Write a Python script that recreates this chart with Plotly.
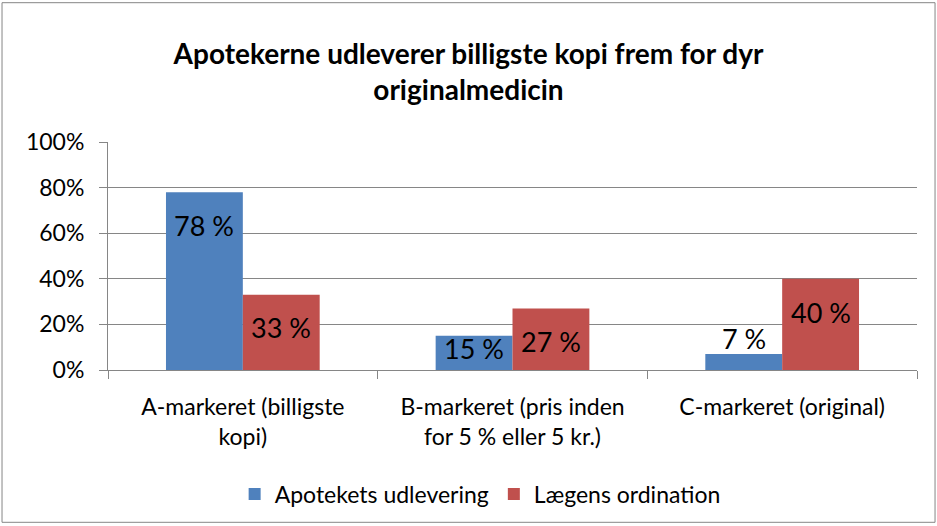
import plotly.graph_objects as go

categories = ["A-markeret (billigste<br>kopi)", "B-markeret (pris inden<br>for 5 % eller 5 kr.)", "C-markeret (original)"]
series_names = ["Apotekets udlevering", "Lægens ordination"]
apotek = [78, 15, 7]
laege = [33, 27, 40]
y_ticks = [0, 20, 40, 60, 80, 100]
y_tick_labels = ["0%", "20%", "40%", "60%", "80%", "100%"]
colors = ["#4F81BD", "#C0504D"]

FONT = "Lato"

fig = go.Figure()
for name, vals, col in zip(series_names, [apotek, laege], colors):
    fig.add_trace(go.Bar(x=categories, y=vals, name=name, marker_color=col,
                         marker_line_width=0))

# data labels
label_shift = {78: -33, 15: -13, 7: 16, 33: -33, 27: -33, 40: -34}
for vals, xs in [(apotek, -38.5), (laege, 38.5)]:
    for c, v in zip(categories, vals):
        fig.add_annotation(x=c, y=v, text=f"{v} %", showarrow=False,
                           xshift=xs, yshift=label_shift.get(v, -33),
                           font=dict(family=FONT, size=27, color="black"))

fig.update_layout(
    width=937, height=526,
    margin=dict(l=108, r=20, t=142, b=155),
    paper_bgcolor="white", plot_bgcolor="white",
    barmode="group", bargap=0.43, bargroupgap=0,
    title=dict(text="<b>Apotekerne udleverer billigste kopi frem for dyr<br>originalmedicin</b>",
               x=0.5, xanchor="center", y=0.879, yanchor="middle",
               font=dict(family=FONT, size=28, color="black")),
    font=dict(family=FONT, color="black"),
    legend=dict(orientation="h", x=0.46, xanchor="center", y=-0.537, yanchor="middle",
                font=dict(family=FONT, size=23, color="black"), itemwidth=30),
    showlegend=True,
)
fig.update_yaxes(range=[0, 100], tickvals=y_ticks, ticktext=y_tick_labels,
                 showgrid=True, gridcolor="#868686", gridwidth=1,
                 showline=True, linecolor="#868686", linewidth=1,
                 ticks="outside", ticklen=8, tickcolor="#868686", ticklabelstandoff=10,
                 tickfont=dict(family=FONT, size=23, color="black"), zeroline=False)
fig.update_xaxes(showline=True, linecolor="#868686", linewidth=1,
                 ticks="outside", ticklen=8, tickcolor="#868686", tickson="boundaries",
                 ticklabelstandoff=16,
                 tickfont=dict(family=FONT, size=23, color="black"))

# chart border
fig.add_shape(type="rect", xref="paper", yref="paper",
              x0=-0.131, x1=1.0223, y0=-0.668, y1=1.611,
              line=dict(color="#868686", width=1), fillcolor="rgba(0,0,0,0)", layer="below")

fig.write_html("out.html", config={"displayModeBar": False},
               post_script="document.body.style.margin='0';")
